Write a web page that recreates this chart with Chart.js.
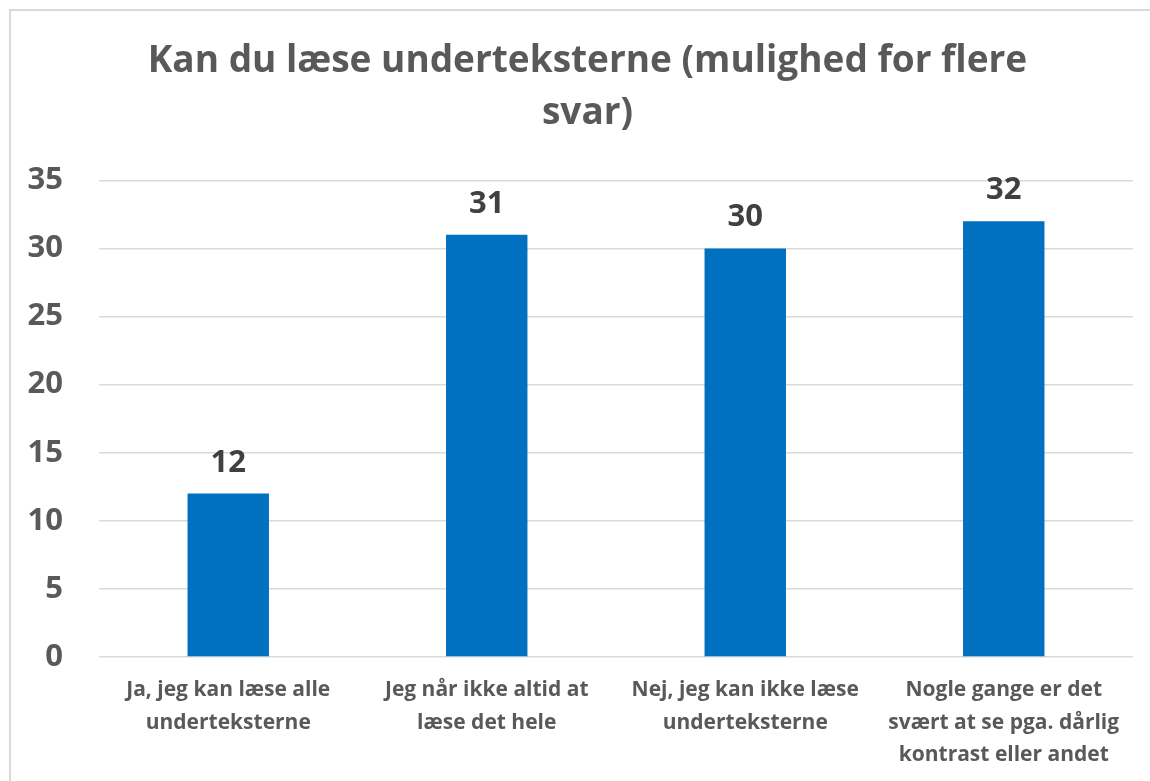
<!DOCTYPE html>
<html>
<head>
<meta charset="utf-8">
<script src="https://cdn.jsdelivr.net/npm/chart.js@4.4.1/dist/chart.umd.min.js"></script>
<style>
  html, body { margin: 0; padding: 0; background: #ffffff; overflow: hidden; }
  #wrap { position: absolute; left: 0; top: 0; width: 1150px; height: 781px; }
</style>
</head>
<body>
<div id="wrap"><canvas id="c" width="1150" height="781"></canvas></div>
<script>
const titleLines = ["Kan du læse underteksterne (mulighed for flere", "svar)"];
const categories = [
  ["Ja, jeg kan læse alle", "underteksterne"],
  ["Jeg når ikke altid at", "læse det hele"],
  ["Nej, jeg kan ikke læse", "underteksterne"],
  ["Nogle gange er det", "svært at se pga. dårlig", "kontrast eller andet"]
];
const values = [12, 31, 30, 32];
const yTicks = [0, 5, 10, 15, 20, 25, 30, 35];

const FONT = "'Open Sans', Lato, sans-serif";

const borderPlugin = {
  id: 'frame',
  afterLayout(chart) {
    // let the y tick labels extend into the left padding without being clipped
    chart.scales.y.left = 0;
  },
  beforeDraw(chart) {
    const ctx = chart.ctx;
    ctx.save();
    ctx.fillStyle = '#ffffff';
    ctx.fillRect(0, 0, chart.width, chart.height);
    ctx.strokeStyle = '#d9d9d9';
    ctx.lineWidth = 2;
    ctx.strokeRect(10, 10, chart.width + 20, chart.height + 20);
    ctx.restore();
  }
};

const dataLabelPlugin = {
  id: 'valueLabels',
  afterDatasetsDraw(chart) {
    const ctx = chart.ctx;
    const meta = chart.getDatasetMeta(0);
    ctx.save();
    ctx.font = "bold 31px " + FONT;
    ctx.fillStyle = '#404040';
    ctx.textAlign = 'center';
    ctx.textBaseline = 'alphabetic';
    meta.data.forEach((bar, i) => {
      ctx.fillText(String(values[i]), bar.x, bar.y - 22);
    });
    ctx.restore();
  }
};

new Chart(document.getElementById('c'), {
  type: 'bar',
  data: {
    labels: categories,
    datasets: [{
      data: values,
      backgroundColor: '#0070C0',
      borderWidth: 0,
      categoryPercentage: 1.0,
      barPercentage: 0.315
    }]
  },
  options: {
    responsive: false,
    animation: false,
    devicePixelRatio: 1,
    layout: { padding: { left: 42, right: 17, top: 0, bottom: 0 } },
    plugins: {
      legend: { display: false },
      tooltip: { enabled: false },
      title: {
        display: true,
        text: titleLines,
        color: '#595959',
        font: { family: FONT, size: 37, weight: 'bold', lineHeight: 1.41 },
        padding: { top: 35, bottom: 41 }
      }
    },
    scales: {
      x: {
        grid: { display: false, drawTicks: false },
        border: { display: false },
        ticks: {
          color: '#595959',
          font: { family: FONT, size: 21, weight: 'bold', lineHeight: 1.55 },
          padding: 17,
          maxRotation: 0,
          minRotation: 0,
          autoSkip: false
        },
        afterFit(scale) { scale.height = 124; }
      },
      y: {
        min: 0,
        max: 35,
        afterBuildTicks(scale) { scale.ticks = yTicks.map(v => ({ value: v })); },
        grid: { color: '#d9d9d9', lineWidth: 1.5, drawTicks: false },
        border: { display: false },
        ticks: {
          color: '#595959',
          font: { family: FONT, size: 31, weight: 'bold' },
          padding: 36
        },
        afterFit(scale) { scale.width = 57; }
      }
    }
  },
  plugins: [borderPlugin, dataLabelPlugin]
});
</script>
</body>
</html>
